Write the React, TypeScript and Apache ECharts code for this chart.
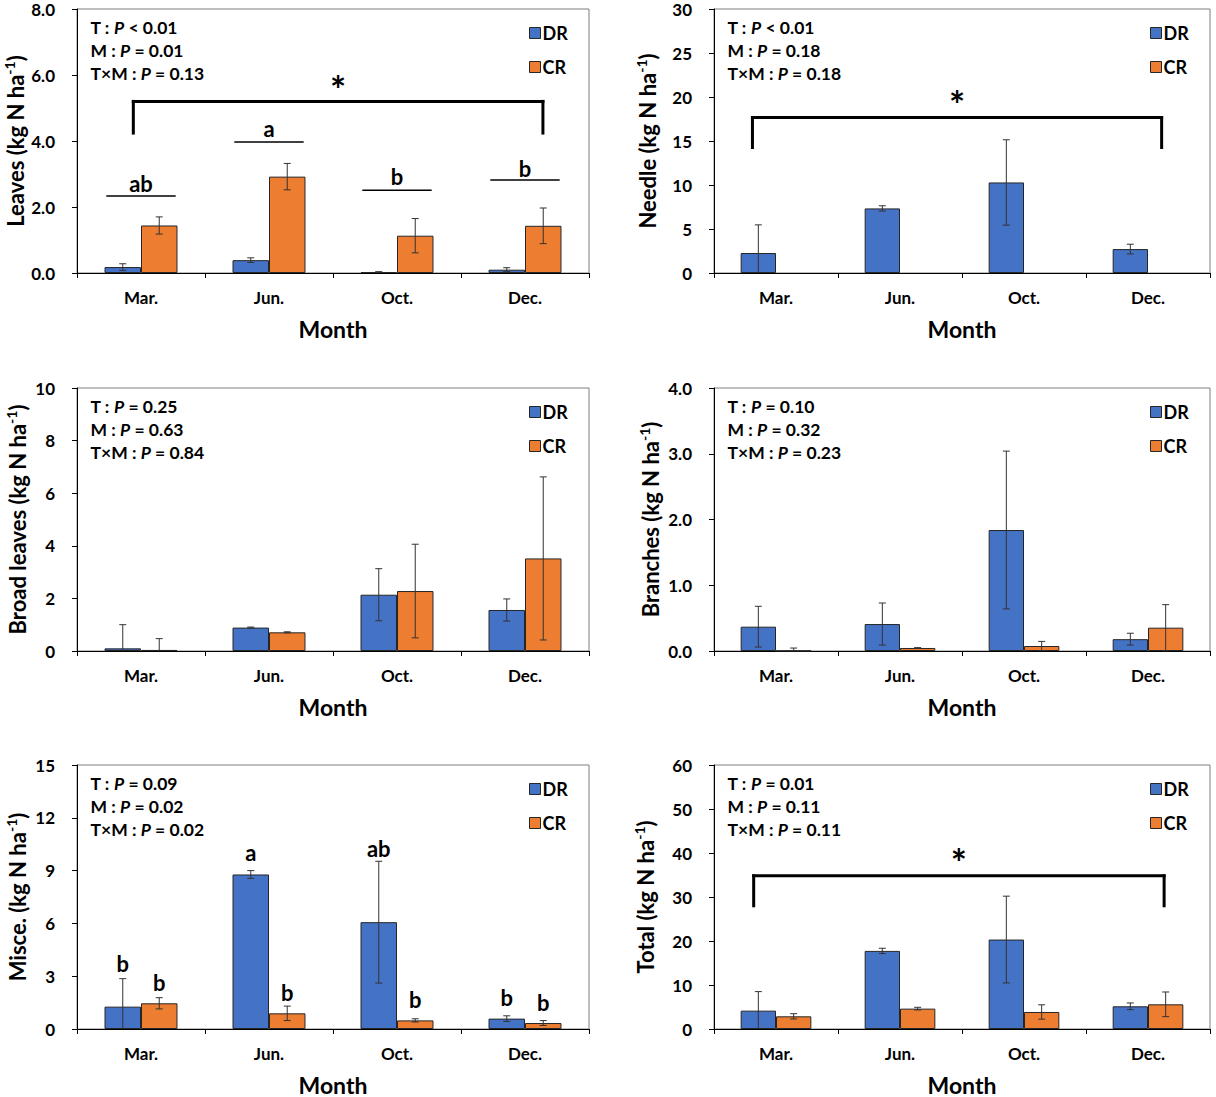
import React, { useEffect, useRef } from "react";
import * as echarts from "echarts";

const months = ["Mar.", "Jun.", "Oct.", "Dec."];

// Leaves
const leavesDR = [0.18, 0.39, 0.03, 0.1];
const leavesDRErr = [0.1, 0.07, 0.01, 0.06];
const leavesCR = [1.44, 2.92, 1.13, 1.43];
const leavesCRErr = [0.26, 0.4, 0.52, 0.54];
const leavesLetters = ["ab", "a", "b", "b"];
const leavesLetterLineY = [2.33, 3.97, 2.51, 2.82];
const leavesLetterY = [2.7, 4.39, 2.93, 3.16];

// Needle (no CR bars)
const needleDR = [2.27, 7.34, 10.29, 2.72];
const needleDRErr = [3.2, 0.3, 4.85, 0.55];
const needleCR: (number | null)[] = [null, null, null, null];

// Broad leaves
const broadDR = [0.1, 0.89, 2.14, 1.56];
const broadDRErr = [0.9, 0.02, 0.99, 0.42];
const broadCR = [0.04, 0.71, 2.28, 3.52];
const broadCRErr = [0.43, 0.02, 1.78, 3.1];

// Branches
const branchDR = [0.37, 0.41, 1.84, 0.18];
const branchDRErr = [0.31, 0.32, 1.2, 0.09];
const branchCR = [0.005, 0.046, 0.076, 0.355];
const branchCRErr = [0.04, 0.005, 0.07, 0.35];

// Misce.
const miscDR = [1.27, 8.78, 6.07, 0.59];
const miscDRErr = [1.59, 0.22, 3.46, 0.16];
const miscCR = [1.46, 0.89, 0.49, 0.34];
const miscCRErr = [0.32, 0.41, 0.09, 0.14];
const miscDRLetters = ["b", "a", "ab", "b"];
const miscDRLetterY = [3.75, 10.05, 10.24, 1.78];
const miscCRLetters = ["b", "b", "b", "b"];
const miscCRLetterY = [2.64, 2.1, 1.67, 1.5];

// Total
const totalDR = [4.17, 17.75, 20.33, 5.16];
const totalDRErr = [4.33, 0.6, 9.86, 0.76];
const totalCR = [2.88, 4.63, 3.87, 5.61];
const totalCRErr = [0.6, 0.3, 1.63, 2.8];

// Significance brackets: [leftX, rightX, legY, topY, starY]
const leavesBracket = [-0.06, 3.14, 4.24, 5.2, 5.73];
const needleBracket = [-0.19, 3.11, 14.26, 17.67, 19.8];
const totalBracket = [-0.18, 3.13, 28.0, 34.82, 39.0];

const pLeaves = ["< 0.01", "= 0.01", "= 0.13"];
const pNeedle = ["< 0.01", "= 0.18", "= 0.18"];
const pBroad = ["= 0.25", "= 0.63", "= 0.84"];
const pBranch = ["= 0.10", "= 0.32", "= 0.23"];
const pMisc = ["= 0.09", "= 0.02", "= 0.02"];
const pTotal = ["= 0.01", "= 0.11", "= 0.11"];

const BLUE = "#4472C4";
const ORANGE = "#ED7D31";
const FONT = "Lato, 'Open Sans', sans-serif";
const CAT_GAP = 0.43;
const OFF = (1 - CAT_GAP) / 4;

type Panel = {
  grid: { left: number; top: number; width: number; height: number };
  label: string;
  max: number;
  interval: number;
  decimals: number;
  nameGap: number;
  dr: number[];
  drErr: number[];
  cr: (number | null)[];
  crErr: number[] | null;
  p: string[];
  bracket?: number[];
  letterLines?: { y: number[] };
  letters?: { x: number; y: number; t: string }[];
};

const panels: Panel[] = [
  {
    grid: { left: 77, top: 9, width: 512, height: 264 },
    label: "Leaves (kg N ha",
    max: 8, interval: 2, decimals: 1, nameGap: 49,
    dr: leavesDR, drErr: leavesDRErr, cr: leavesCR, crErr: leavesCRErr,
    p: pLeaves, bracket: leavesBracket,
    letterLines: { y: leavesLetterLineY },
    letters: months.map((_, i) => ({ x: i, y: leavesLetterY[i], t: leavesLetters[i] })),
  },
  {
    grid: { left: 714, top: 9, width: 496, height: 264 },
    label: "Needle (kg N ha",
    max: 30, interval: 5, decimals: 0, nameGap: 54,
    dr: needleDR, drErr: needleDRErr, cr: needleCR, crErr: null,
    p: pNeedle, bracket: needleBracket,
  },
  {
    grid: { left: 77, top: 388, width: 512, height: 263 },
    label: "Broad leaves (kg N ha",
    max: 10, interval: 2, decimals: 0, nameGap: 47,
    dr: broadDR, drErr: broadDRErr, cr: broadCR, crErr: broadCRErr,
    p: pBroad,
  },
  {
    grid: { left: 714, top: 388, width: 496, height: 263 },
    label: "Branches (kg N ha",
    max: 4, interval: 1, decimals: 1, nameGap: 51,
    dr: branchDR, drErr: branchDRErr, cr: branchCR, crErr: branchCRErr,
    p: pBranch,
  },
  {
    grid: { left: 77, top: 765, width: 512, height: 264 },
    label: "Misce. (kg N ha",
    max: 15, interval: 3, decimals: 0, nameGap: 47,
    dr: miscDR, drErr: miscDRErr, cr: miscCR, crErr: miscCRErr,
    p: pMisc,
    letters: [
      ...months.map((_, i) => ({ x: i - OFF, y: miscDRLetterY[i], t: miscDRLetters[i] })),
      ...months.map((_, i) => ({ x: i + OFF, y: miscCRLetterY[i], t: miscCRLetters[i] })),
    ],
  },
  {
    grid: { left: 714, top: 765, width: 496, height: 264 },
    label: "Total (kg N ha",
    max: 60, interval: 10, decimals: 0, nameGap: 56,
    dr: totalDR, drErr: totalDRErr, cr: totalCR, crErr: totalCRErr,
    p: pTotal, bracket: totalBracket,
  },
];

function errData(vals: number[], errs: number[], off: number) {
  return vals.map((v, i) => {
    const lo = v - errs[i];
    return [i + off, Math.max(0, lo), v + errs[i], lo >= 0 ? 1 : 0];
  });
}

const errRender = (params: any, api: any) => {
  const x = api.value(0);
  const pHi = api.coord([x, api.value(2)]);
  const pLo = api.coord([x, api.value(1)]);
  const cw = 3.5;
  const st = { stroke: "#333", lineWidth: 1 };
  const children: any[] = [
    { type: "line", shape: { x1: pHi[0], y1: pHi[1], x2: pLo[0], y2: pLo[1] }, style: st },
    { type: "line", shape: { x1: pHi[0] - cw, y1: pHi[1], x2: pHi[0] + cw, y2: pHi[1] }, style: st },
  ];
  if (api.value(3)) {
    children.push({ type: "line", shape: { x1: pLo[0] - cw, y1: pLo[1], x2: pLo[0] + cw, y2: pLo[1] }, style: st });
  }
  return { type: "group", children };
};

const segRender = (params: any, api: any) => {
  const a = api.coord([api.value(0), api.value(1)]);
  const b = api.coord([api.value(2), api.value(3)]);
  return {
    type: "line",
    shape: { x1: a[0], y1: a[1], x2: b[0], y2: b[1] },
    style: { stroke: "#000", lineWidth: api.value(4), lineCap: "square" },
  };
};

function buildOption() {
  const grid: any[] = [];
  const xAxis: any[] = [];
  const yAxis: any[] = [];
  const series: any[] = [];
  const legend: any[] = [];
  const graphic: any[] = [];

  panels.forEach((pn, k) => {
    grid.push({ ...pn.grid, show: true, borderColor: "#7f7f7f", borderWidth: 1, containLabel: false });
    xAxis.push({
      type: "category", gridIndex: k, data: months,
      axisLine: { onZero: false, lineStyle: { color: "#000", width: 1 } },
      axisTick: { show: true, length: 5, lineStyle: { color: "#000" } },
      axisLabel: { fontSize: 17, fontWeight: "bold", color: "#000", fontFamily: FONT, margin: 16 },
      name: "Month", nameLocation: "middle", nameGap: 44,
      nameTextStyle: { fontSize: 23, fontWeight: "bold", color: "#000", fontFamily: FONT },
      splitLine: { show: false },
    });
    xAxis.push({ type: "value", gridIndex: k, min: -0.5, max: 3.5, show: false });
    yAxis.push({
      type: "value", gridIndex: k, min: 0, max: pn.max, interval: pn.interval,
      axisLine: { show: true, onZero: false, lineStyle: { color: "#000", width: 1 } },
      axisTick: { show: true, length: 5, lineStyle: { color: "#000" } },
      splitLine: { show: false },
      axisLabel: {
        fontSize: 17, fontWeight: "bold", color: "#000", fontFamily: FONT, margin: 22,
        formatter: (v: number) => v.toFixed(pn.decimals),
      },
      name: `{t|${pn.label}}{s|-1}{t|)}`,
      nameLocation: "middle", nameGap: pn.nameGap,
      nameTextStyle: {
        rich: {
          t: { fontSize: 22, fontWeight: "bold", color: "#000", fontFamily: FONT, lineHeight: 26 },
          s: { fontSize: 14, fontWeight: "bold", color: "#000", fontFamily: FONT, lineHeight: 26, verticalAlign: "top" },
        },
      },
    });

    series.push({
      name: "DR", type: "bar", xAxisIndex: 2 * k, yAxisIndex: k, data: pn.dr,
      barGap: "0%", barCategoryGap: `${CAT_GAP * 100}%`,
      itemStyle: { color: BLUE, borderColor: "#262626", borderWidth: 1 },
    });
    series.push({
      name: "CR", type: "bar", xAxisIndex: 2 * k, yAxisIndex: k, data: pn.cr,
      barGap: "0%", barCategoryGap: `${CAT_GAP * 100}%`,
      itemStyle: { color: ORANGE, borderColor: "#262626", borderWidth: 1 },
    });
    const eData = [...errData(pn.dr, pn.drErr, -OFF)];
    if (pn.crErr) eData.push(...errData(pn.cr as number[], pn.crErr, OFF));
    series.push({
      type: "custom", xAxisIndex: 2 * k + 1, yAxisIndex: k, renderItem: errRender,
      data: eData, z: 5, silent: true, clip: false,
    });

    const segs: number[][] = [];
    if (pn.bracket) {
      const [l, r, legY, topY] = pn.bracket;
      segs.push([l, legY, l, topY, 3], [l, topY, r, topY, 3], [r, topY, r, legY, 3]);
    }
    if (pn.letterLines) {
      pn.letterLines.y.forEach((y, i) => segs.push([i - 0.265, y, i + 0.265, y, 1.5]));
    }
    if (segs.length) {
      series.push({
        type: "custom", xAxisIndex: 2 * k + 1, yAxisIndex: k, renderItem: segRender,
        data: segs, z: 5, silent: true, clip: false,
      });
    }
    const texts: { x: number; y: number; t: string; size: number; dy: number }[] = [];
    if (pn.bracket) {
      const [l, r, , , starY] = pn.bracket;
      texts.push({ x: (l + r) / 2, y: starY, t: "*", size: 38, dy: 5 });
    }
    (pn.letters || []).forEach((lt) => texts.push({ x: lt.x, y: lt.y, t: lt.t, size: 22, dy: 0 }));
    if (texts.length) {
      series.push({
        type: "custom", xAxisIndex: 2 * k + 1, yAxisIndex: k, silent: true, clip: false, z: 6,
        data: texts.map((d) => [d.x, d.y]),
        renderItem: (params: any, api: any) => {
          const d = texts[params.dataIndex];
          const p = api.coord([api.value(0), api.value(1)]);
          return {
            type: "text",
            x: p[0], y: p[1] + d.dy,
            style: {
              text: d.t, fill: "#000", align: "center", verticalAlign: "middle",
              font: `bold ${d.size}px ${FONT}`,
            },
          };
        },
      });
    }

    legend.push({
      data: ["DR", "CR"], orient: "vertical",
      left: pn.grid.left + pn.grid.width - 60, top: pn.grid.top + 15,
      itemWidth: 11, itemHeight: 11, itemGap: 16, icon: "rect", padding: 0,
      selectedMode: false,
      itemStyle: { borderColor: "#262626", borderWidth: 1 },
      textStyle: { fontSize: 18, fontWeight: "bold", color: "#000", fontFamily: FONT, padding: [0, 0, 0, -3] },
    });

    const pText = [
      `T : {i|P} ${pn.p[0]}`,
      `M : {i|P} ${pn.p[1]}`,
      `T×M : {i|P} ${pn.p[2]}`,
    ].join("\n");
    graphic.push({
      type: "text", left: pn.grid.left + 13.5, top: pn.grid.top + 7, silent: true,
      style: {
        text: pText,
        font: `bold 17.5px ${FONT}`,
        fill: "#000",
        lineHeight: 23,
        rich: {
          i: { fontStyle: "italic", fontWeight: "bold", fontSize: 17.5, fontFamily: FONT, fill: "#000", lineHeight: 23 },
        },
      },
    });
  });

  return { animation: false, backgroundColor: "#fff", grid, xAxis, yAxis, series, legend, graphic };
}

export default function App() {
  const ref = useRef<HTMLDivElement>(null);
  useEffect(() => {
    document.body.style.margin = "0";
    if (!ref.current) return;
    const chart = echarts.init(ref.current, undefined, { renderer: "svg" });
    chart.setOption(buildOption() as any);
    return () => chart.dispose();
  }, []);
  return <div ref={ref} style={{ width: 1216, height: 1097 }} />;
}
